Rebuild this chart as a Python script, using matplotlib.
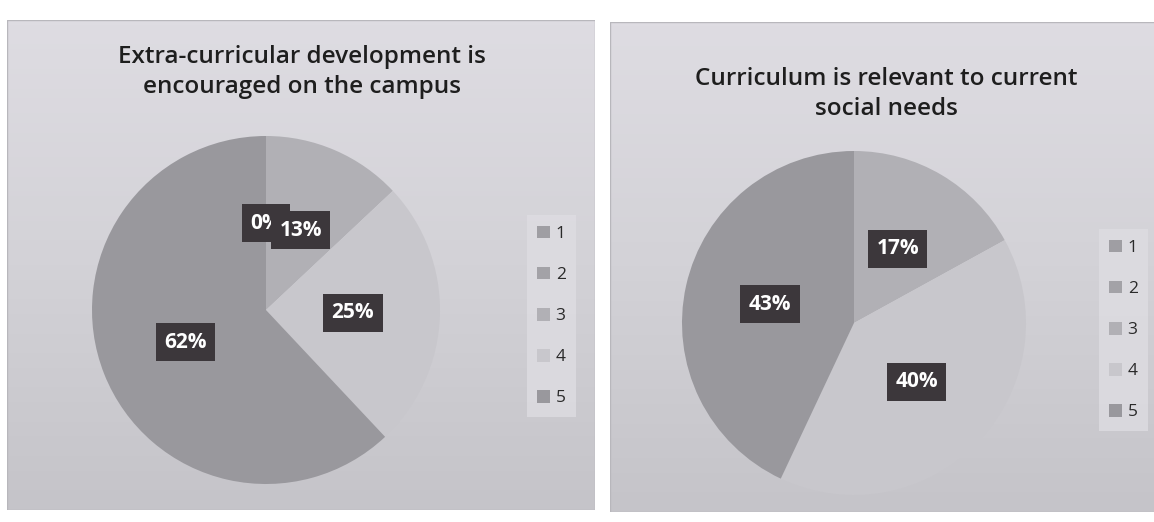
import matplotlib
matplotlib.use("Agg")
import matplotlib.pyplot as plt
import numpy as np
from matplotlib.patches import Rectangle
from matplotlib.colors import LinearSegmentedColormap

plt.rcParams['font.family'] = ['Open Sans', 'DejaVu Sans']

# data
categories = ['1', '2', '3', '4', '5']
left_title = "Extra-curricular development is\nencouraged on the campus"
left_values = [0, 0, 13, 25, 62]
right_title = "Curriculum is relevant to current\nsocial needs"
right_values = [0, 0, 17, 40, 43]

slice_colors = ['#9f9ea3', '#a3a2a7', '#b1b0b5', '#c8c7cc', '#99989d']

W, H = 1154, 522
fig = plt.figure(figsize=(W / 100, H / 100), dpi=100)
fig.patch.set_facecolor('white')


def panel(x0, y0, x1, y1):
    # background of one scanned chart, slightly darker towards the bottom
    ax = fig.add_axes([x0 / W, 1 - y1 / H, (x1 - x0) / W, (y1 - y0) / H])
    grad = np.linspace(0, 1, 100).reshape(-1, 1)
    cmap = LinearSegmentedColormap.from_list('bg', ['#dedce2', '#d3d2d7', '#c5c4c9'])
    ax.imshow(grad, aspect='auto', cmap=cmap, extent=(0, 1, 0, 1), origin='upper')
    ax.set_xlim(0, 1)
    ax.set_ylim(0, 1)
    ax.axis('off')
    ax.add_patch(Rectangle((0, 0), 1, 1, fill=False, edgecolor='#b8b7bc', linewidth=1.0,
                           transform=ax.transAxes))
    return ax


def draw_pie(values, title, cx, cy, r, tx, ty, leg_x, leg_y, show_zero):
    ax = fig.add_axes([(cx - r) / W, 1 - (cy + r) / H, 2 * r / W, 2 * r / H])

    def fmt(p):
        if p < 0.5 and not show_zero:
            return ''
        return f'{p:.0f}%'

    wedges, texts, autotexts = ax.pie(
        values, colors=slice_colors, startangle=90, counterclock=False,
        autopct=fmt, pctdistance=0.5,
        wedgeprops=dict(linewidth=0),
        textprops=dict(color='white', fontsize=15, fontweight='bold'))
    for t in autotexts:
        if t.get_text():
            t.set_bbox(dict(boxstyle='square,pad=0.4', facecolor='#3c373b', edgecolor='none'))
    ax.set_xlim(-1, 1)
    ax.set_ylim(-1, 1)

    fig.text(tx / W, 1 - ty / H, title, ha='center', va='center', fontsize=17.5,
             fontweight='semibold', color='#1e1e1e', linespacing=1.3)

    leg = ax.legend(wedges, categories, loc='center left',
                    bbox_to_anchor=(leg_x / W, 1 - leg_y / H), bbox_transform=fig.transFigure,
                    frameon=True, fancybox=False, fontsize=12.5, labelspacing=1.42,
                    handlelength=0.75, handleheight=0.75, handletextpad=0.3,
                    borderpad=0.6, borderaxespad=0)
    leg.get_frame().set_facecolor('#dedde2')
    leg.get_frame().set_edgecolor('none')
    for txt in leg.get_texts():
        txt.set_color('#2a2a2a')
    return ax


panel(7, 20, 595, 510)
panel(610, 22, 1160, 512)

draw_pie(left_values, left_title, 266, 310, 174, 302, 72, 527, 316, True)
draw_pie(right_values, right_title, 854, 323, 172, 886, 94, 1099, 330, False)

plt.savefig('out.png', dpi=100)
